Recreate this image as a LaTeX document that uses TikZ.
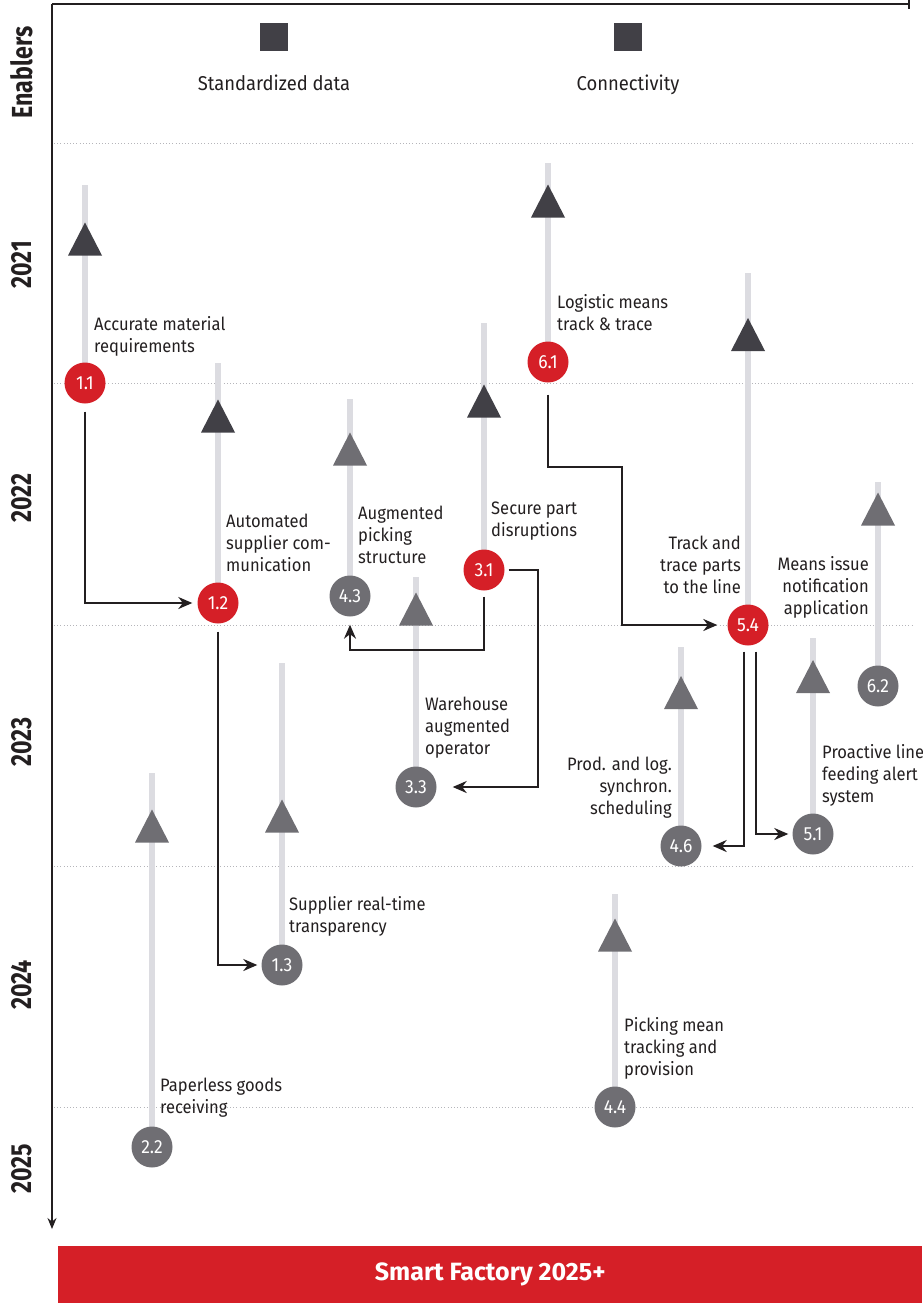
\documentclass[tikz,border=0pt]{standalone}
\usepackage{fontspec}
\setmainfont{Fira Sans}[FakeStretch=0.92]
\newfontfamily\headfont{Fira Sans}[FakeStretch=0.8]
\newfontfamily\bannerfont{Fira Sans}
\usetikzlibrary{arrows.meta,calc}

\definecolor{accent}{HTML}{D51F27}
\definecolor{darkmark}{HTML}{414046}
\definecolor{midgray}{HTML}{6F6E73}
\definecolor{barcol}{HTML}{DCDCE1}
\definecolor{ink}{HTML}{231F20}
\definecolor{gridcol}{HTML}{B5B5BA}

\tikzset{
  axisline/.style={draw=ink, line width=1.4pt},
  gridline/.style={draw=gridcol, line width=0.8pt, dash pattern=on 0.8pt off 2.4pt},
  bar/.style={draw=barcol, line width=6pt},
  milestone/.style={circle, minimum size=41pt, inner sep=0pt, text=white,
    font=\fontsize{19}{19}\selectfont},
  keyitem/.style={milestone, fill=accent},
  otheritem/.style={milestone, fill=midgray},
  labeltext/.style={font=\fontsize{18}{22}\selectfont, text=ink, inner sep=0pt},
  leftlabel/.style={labeltext, anchor=north west, align=left},
  rightlabel/.style={labeltext, anchor=north east, align=right},
  yearlabel/.style={rotate=90, text=ink, inner sep=0pt,
    font=\headfont\bfseries\fontsize{29}{29}\selectfont},
  enablertext/.style={text=ink, inner sep=0pt, font=\fontsize{20}{20}\selectfont},
  enablerbox/.style={fill=darkmark, minimum size=28pt, inner sep=0pt},
  conn/.style={draw=ink, line width=2.2pt, -{Stealth[length=14pt,width=12pt]}},
  pics/marker/.style={code={\fill[#1] (-17,16.5) -- (17,16.5) -- (0,-16.5) -- cycle;}}
}

\begin{document}
\begin{tikzpicture}[x=1pt,y=-1pt]
\useasboundingbox (0,0) rectangle (922,1303);

% year grid
\foreach \gy in {143,383,625,866,1107}
  \draw[gridline] (54,\gy) -- (913,\gy);

% time axis and top rule
\draw[axisline] (909,4) -- (52,4);
\draw[axisline] (909,0) -- (909,9.5);
\draw[axisline, -{Stealth[length=11pt,width=9pt]}] (52,4) -- (52,1229);

% row labels
\node[yearlabel] (lEnablers) at (22,72.5) {Enablers};
\node[yearlabel] (l2021) at (22,265) {2021};
\node[yearlabel] (l2022) at (22,498) {2022};
\node[yearlabel] (l2023) at (22,742) {2023};
\node[yearlabel] (l2024) at (22,985) {2024};
\node[yearlabel] (l2025) at (22,1169) {2025};

% enablers
\node[enablerbox] (e1) at (274,37) {};
\node[enablerbox] (e2) at (628,37) {};
\node[enablertext, anchor=base] (e1t) at (274,91) {Standardized data};
\node[enablertext, anchor=base] (e2t) at (628,91) {Connectivity};

% time bars
\draw[bar] (85,185) -- (85,383);
\draw[bar] (218,363) -- (218,603);
\draw[bar] (282,663) -- (282,965);
\draw[bar] (152,773) -- (152,1147);
\draw[bar] (350,399) -- (350,596);
\draw[bar] (416,577) -- (416,787);
\draw[bar] (484,323) -- (484,570);
\draw[bar] (548,163) -- (548,362);
\draw[bar] (748,273) -- (748,625);
\draw[bar] (681,647) -- (681,846);
\draw[bar] (813,638) -- (813,834);
\draw[bar] (878,482) -- (878,686);
\draw[bar] (615,894) -- (615,1107);

% start markers
\pic at (85,239) {marker=darkmark};
\pic at (218,416) {marker=darkmark};
\pic at (282,816) {marker=midgray};
\pic at (152,826) {marker=midgray};
\pic at (350,449) {marker=midgray};
\pic at (416,609) {marker=midgray};
\pic at (484,401) {marker=darkmark};
\pic at (548,201) {marker=darkmark};
\pic at (748,334.5) {marker=darkmark};
\pic at (681,692.5) {marker=midgray};
\pic at (813,676.5) {marker=midgray};
\pic at (878,509) {marker=midgray};
\pic at (615,935) {marker=midgray};

% milestones
\node[keyitem]   (n11) at (85,383)  {1.1};
\node[keyitem]   (n12) at (218,603) {1.2};
\node[otheritem] (n13) at (282,965) {1.3};
\node[otheritem] (n22) at (152,1147) {2.2};
\node[otheritem] (n43) at (350,596) {4.3};
\node[otheritem] (n33) at (416,787) {3.3};
\node[keyitem]   (n31) at (484,570) {3.1};
\node[keyitem]   (n61) at (548,362) {6.1};
\node[keyitem]   (n54) at (748,625) {5.4};
\node[otheritem] (n46) at (681,846) {4.6};
\node[otheritem] (n51) at (813,834) {5.1};
\node[otheritem] (n62) at (878,686) {6.2};
\node[otheritem] (n44) at (615,1107) {4.4};

% milestone texts
\node[leftlabel]  (t11) at (94,316)  {Accurate material\\requirements};
\node[leftlabel]  (t12) at (226,514) {Automated\\supplier com-\\munication};
\node[leftlabel]  (t13) at (289,896) {Supplier real-time\\transparency};
\node[leftlabel]  (t22) at (160,1078) {Paperless goods\\receiving};
\node[leftlabel]  (t43) at (358,506) {Augmented\\picking\\structure};
\node[leftlabel]  (t33) at (425,697) {Warehouse\\augmented\\operator};
\node[leftlabel]  (t31) at (491,502) {Secure part\\disruptions};
\node[leftlabel]  (t61) at (557,294) {Logistic means\\track \& trace};
\node[rightlabel] (t54) at (741,536) {Track and\\trace parts\\to the line};
\node[rightlabel] (t46) at (672,757) {Prod. and log.\\synchron.\\scheduling};
\node[leftlabel]  (t51) at (822,744) {Proactive line\\feeding alert\\system};
\node[rightlabel] (t62) at (869,556) {Means issue\\notification\\application};
\node[leftlabel]  (t44) at (624,1017) {Picking mean\\tracking and\\provision};

% dependencies
\draw[conn, shorten <=8pt, shorten >=5pt] (n11.south) |- (n12.west);
\draw[conn, shorten <=8pt, shorten >=4pt] (n12.south) |- (n13.west);
\draw[conn, shorten <=6pt, shorten >=8pt] (n31.south) -- ++(0,59.5) -| (n43.south);
\draw[conn, shorten <=4pt, shorten >=16pt] (n31.east) -- ++(33,0) |- (n33.east);
\draw[conn, shorten <=12pt, shorten >=10pt] (n61.south) -- ++(0,84.5) -- ++(74,0) |- (n54.west);
\draw[conn, shorten <=6pt, shorten >=11pt] ([xshift=-4pt]n54.south) |- (n46.east);
\draw[conn, shorten <=6pt, shorten >=4pt] ([xshift=8pt]n54.south) |- (n51.west);

% target banner
\node[fill=accent, anchor=north west, minimum width=864pt, minimum height=57pt,
  inner sep=0pt, text=white, font=\bannerfont\bfseries\fontsize{25}{25}\selectfont]
  (goal) at (58,1246) {Smart Factory 2025+};
\end{tikzpicture}
\end{document}
